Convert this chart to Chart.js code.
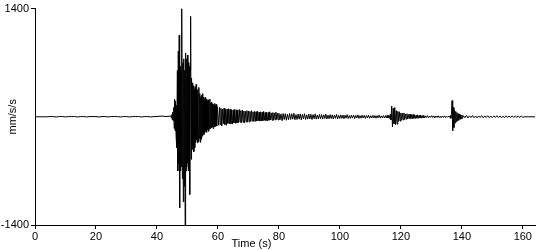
<!DOCTYPE html>
<html>
<head>
<meta charset="utf-8">
<script src="https://cdn.jsdelivr.net/npm/chart.js@4/dist/chart.umd.min.js"></script>
<style>
  html, body { margin: 0; padding: 0; background: #fff; }
  #wrap { width: 550px; height: 250px; position: relative; }
</style>
</head>
<body>
<div id="wrap"><canvas id="seis"></canvas></div>
<script>
(function () {
  'use strict';

  // seismogram pieces: start time (s), sample step (s), amplitudes (mm/s/s)
  const preStart = 0, preStep = 1;
  const preValues = [0, 0, 0, 0, 0, 3, 3, -2, 3, 3, -2, 3, 3, 3, -2, 3, 3, -2, 3, 3, 3, -2,
    3, 3, -2, 3, 3, 3, -2, 3, 3, -2, 3, 3, 3, -2, 3, 3, -2, 3, 3, 8, 8, 3];

  const mainStart = 44.6, mainStep = 0.15;
  const mainValues = [
    10, -15, 30, -40, 60, -50,
    120, -150, 225, -180, 200, -225, 150,
    -400, 600, -700, 850, -600,
    1055, -1180, 650, -700, 600, -650, 1400,
    -800, 700, -1100, 750, -900, 600, -1400,
    825, -700, 750, -650, 800, -600, 700,
    -700, 650, -1005, 600, 1300, -550, 500,
    -420, 440, -380, 400, -450, 350, -400,
    380, -330, 420, -300, 350, -340, 300,
    -320, 380, -280, 300, -330, 260, -290,
    280, -250, 300, -220, 250, -230, 220,
    -200, 250, -180, 230, -200, 210, -170,
    220, -190, 200, -160, 230, -150, 180,
    -140, 190, -130, 170, -150, 160, -120,
    170, -130, 150, -110, 160, -120, 130];

  const codaStart = 60, codaStep = 0.25;
  const codaValues = [
    130, -110, 120, -100, 110, -120, 100, -90,
    110, -100, 95, -110, 100, -85, 105, -90,
    100, -90, 85, -95, 90, -80, 95, -85,
    90, -80, 85, -75, 95, -70, 80, -75,
    85, -70, 75, -80, 70, -65, 80, -70,
    75, -65, 70, -60, 80, -55, 65, -60,
    70, -60, 65, -55, 75, -50, 60, -55,
    65, -55, 60, -50, 70, -45, 55, -50,
    60, -50, 55, -45, 65, -40, 50, -45,
    55, -45, 50, -40, 60, -35, 45, -40];

  const lateStart = 80, lateStep = 0.35;
  const lateValues = [
    45, -40, 38, -50, 42, -35, 40, -45, 32, -38,
    42, -35, 40, -30, 45, -38, 28, -35, 35, -30,
    38, -40, 30, -28, 40, -35, 25, -30, 35, -28,
    32, -35, 28, -25, 38, -30, 22, -28, 30, -25,
    28, -30, 25, -22, 35, -28, 20, -25, 28, -22,
    25, -28, 22, -20, 32, -25, 18, -22, 25, -20,
    22, -25, 20, -18, 28, -22, 16, -20, 22, -18,
    20, -22, 18, -16, 25, -20, 15, -18, 20, -16,
    18, -20, 16, -15, 22, -18, 14, -16, 18, -15,
    16, -18, 15, -14, 20, -16, 12, -15, 16, -14];

  const burst1Start = 115, burst1Step = 0.25;
  const burst1Values = [
    16, -14, 18, -15, 15, -20,
    30, -40, 140, -130,
    110, -90, 120, -100,
    80, -95, 70, -60,
    65, -55, 50, -45,
    45, -40, 50, -35,
    35, -30, 40, -28,
    30, -25, 35, -22, 28, -25, 30, -20, 25, -22, 20,
    -18, 25, -20, 18, -15, 22, -18, 15, -12, 18, -15];

  const quietStart = 128, quietStep = 0.35;
  const quietValues = [12, -10, 15, -12, 10, -8, 14, -10, 12, -15, 10, -8,
    12, -10, 8, -12, 10, -8, 12, -10, 8, -6, 10, -8];

  const burst2Start = 136.2, burst2Step = 0.2;
  const burst2Values = [15, -20, 30, 210, -180, 120, -140, 90, -80, 70, -60,
    55, -50, 40, -45, 35, -30, 28, -25, 22, -20];

  const tailStart = 140.5, tailStep = 0.5;
  const tailValues = [15, -12, 18, -15, 12, -10, 16, -12, 10, -14, 12, -10, 15, -12,
    10, -8, 14, -12, 10, -10, 12, -8, 14, -10, 10, -12, 8, -10, 12, -8,
    10, -10, 12, -8, 10, -6, 8, -8, 10, -6];

  const endStart = 160.5, endStep = 3.5;
  const endValues = [0, 0];

  const xTicks = [0, 20, 40, 60, 80, 100, 120, 140, 160];
  const yTicks = [-1400, 1400];

  const segments = [
    [preStart, preStep, preValues],
    [mainStart, mainStep, mainValues],
    [codaStart, codaStep, codaValues],
    [lateStart, lateStep, lateValues],
    [burst1Start, burst1Step, burst1Values],
    [quietStart, quietStep, quietValues],
    [burst2Start, burst2Step, burst2Values],
    [tailStart, tailStep, tailValues],
    [endStart, endStep, endValues],
  ];

  const points = [];
  segments.forEach(([t0, dt, vals]) => {
    vals.forEach((v, i) => points.push({ x: +(t0 + i * dt).toFixed(3), y: v }));
  });

  const FONT = { family: '"Liberation Sans", Arial, sans-serif', size: 11 };

  const axisTitles = {
    id: 'axisTitles',
    afterDraw(chart) {
      const { ctx, chartArea, scales } = chart;
      ctx.save();
      ctx.fillStyle = '#000';
      ctx.font = '11px "Liberation Sans", Arial, sans-serif';
      ctx.textAlign = 'center';
      ctx.textBaseline = 'middle';
      ctx.fillText('Time (s)', scales.x.getPixelForValue(71), 244);
      ctx.translate(13, (chartArea.top + chartArea.bottom) / 2);
      ctx.rotate(-Math.PI / 2);
      ctx.fillText('mm/s/s', 0, 0);
      ctx.restore();
    },
  };

  new Chart(document.getElementById('seis'), {
    type: 'line',
    data: {
      datasets: [{
        data: points,
        borderColor: '#000',
        borderWidth: 1,
        pointRadius: 0,
        tension: 0,
        fill: false,
      }],
    },
    options: {
      responsive: true,
      maintainAspectRatio: false,
      animation: false,
      parsing: false,
      normalized: true,
      events: [],
      layout: { padding: { top: 2, right: 15, left: 0, bottom: 0 } },
      plugins: { legend: { display: false }, tooltip: { enabled: false } },
      scales: {
        x: {
          type: 'linear',
          min: 0,
          max: 164,
          afterBuildTicks: (s) => { s.ticks = xTicks.map((v) => ({ value: v })); },
          afterFit: (s) => { s.height = 25; },
          border: { display: true, color: '#000', width: 1 },
          grid: { drawOnChartArea: false, drawTicks: true, tickLength: 4, color: '#000' },
          ticks: { color: '#000', font: FONT, padding: 1, maxRotation: 0, autoSkip: false,
            callback: (v) => String(v) },
        },
        y: {
          min: -1400,
          max: 1400,
          afterBuildTicks: (s) => { s.ticks = yTicks.map((v) => ({ value: v })); },
          afterFit: (s) => { s.width = 35; },
          border: { display: true, color: '#000', width: 1 },
          grid: { drawOnChartArea: false, drawTicks: true, tickLength: 4, color: '#000' },
          ticks: { color: '#000', font: FONT, padding: 2, callback: (v) => String(v) },
        },
      },
    },
    plugins: [axisTitles],
  });
}());
</script>
</body>
</html>
